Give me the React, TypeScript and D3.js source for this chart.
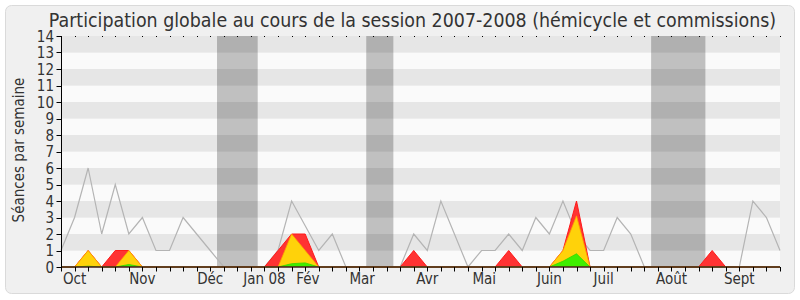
import React from "react";
import * as d3 from "d3";

const TITLE = "Participation globale au cours de la session 2007-2008 (hémicycle et commissions)";
const Y_TITLE = "Séances par semaine";

// weekly values, weeks 0..53
const medianLine = [1, 3, 6, 2, 5, 2, 3, 1, 1, 3, 2, 1, 0, 0, 0, 0, 1, 4, 2.5, 1, 2, 0, 0, 0, 0, 0, 2, 1, 4, 2, 0, 1, 1, 2, 1, 3, 2, 4, 2, 1, 1, 3, 2, 0, 0, 0, 0, 0, 0, 0, 0, 4, 3, 1];
const presences = [0, 0, 1, 0, 1, 1, 0, 0, 0, 0, 0, 0, 0, 0, 0, 0, 1, 2, 2, 0, 0, 0, 0, 0, 0, 0, 1, 0, 0, 0, 0, 0, 0, 1, 0, 0, 0, 1, 4, 0, 0, 0, 0, 0, 0, 0, 0, 0, 1, 0, 0, 0, 0, 0];
const participations = [0, 0, 1, 0, 0, 1, 0, 0, 0, 0, 0, 0, 0, 0, 0, 0, 0, 2, 1, 0, 0, 0, 0, 0, 0, 0, 0, 0, 0, 0, 0, 0, 0, 0, 0, 0, 0, 1, 3.1, 0, 0, 0, 0, 0, 0, 0, 0, 0, 0, 0, 0, 0, 0, 0];
const interventions = [0, 0, 0.05, 0, 0, 0.15, 0, 0, 0, 0, 0, 0, 0, 0, 0, 0, 0, 0.2, 0.25, 0, 0, 0, 0, 0, 0, 0, 0, 0, 0, 0, 0, 0, 0, 0, 0, 0, 0, 0.35, 0.8, 0, 0, 0, 0, 0, 0, 0, 0, 0, 0, 0, 0, 0, 0, 0];

const vacationStart = [12, 23, 44];
const vacationEnd = [14, 24, 47];

const monthLabels = ["Oct", "Nov", "Déc", "Jan 08", "Fév", "Mar", "Avr", "Mai", "Juin", "Juil", "Août", "Sept"];
const monthWeeks = [1, 6, 11, 15, 18.2, 22.2, 27, 31.2, 36, 40, 45, 50];

const yTicks = d3.range(0, 15);

const FONT = "'DejaVu Sans Condensed', 'DejaVu Sans', sans-serif";

export default function App() {
  const W = 800, H = 300;
  const nWeeks = medianLine.length;
  const x = d3.scaleLinear().domain([0, nWeeks - 1]).range([61, 780]);
  const y = d3.scaleLinear().domain([0, 14]).range([267, 36]);
  const weeks = d3.range(nWeeks);

  const area = (vals: number[]) =>
    d3.area<number>().x((_, i) => x(i)).y0(y(0)).y1((d) => y(d))(vals) || "";
  const line = (vals: number[]) =>
    d3.line<number>().x((_, i) => x(i)).y((d) => y(d))(vals) || "";

  return (
    <svg width={W} height={H} style={{ position: "absolute", left: 0, top: 0 }} fontFamily={FONT}>
      <rect x={0} y={0} width={W} height={H} fill="#ffffff" />
      <rect x={5.5} y={5.5} width={789} height={288} rx={6} fill="#f0f0f0" stroke="#dadada" />
      <text x={412.5} y={27} textAnchor="middle" fontSize={19.4} fill="#333">{TITLE}</text>

      {/* stripes */}
      {d3.range(0, 14).map((k) => (
        <rect key={k} x={x(0)} y={y(k + 1)} width={x(nWeeks - 1) - x(0)} height={y(k) - y(k + 1)}
          fill={k % 2 === 1 ? "#e6e6e6" : "#fafafa"} />
      ))}
      {/* vacations */}
      {vacationStart.map((s, i) => (
        <rect key={i} x={x(s - 0.5)} y={y(14)} width={x(vacationEnd[i] + 0.5) - x(s - 0.5)} height={y(0) - y(14)}
          fill="#000" fillOpacity={0.23} />
      ))}

      {/* median line */}
      <path d={line(medianLine)} fill="none" stroke="#b4b4b4" strokeWidth={1.2} />

      {/* areas */}
      <path d={area(presences)} fill="#ff3333" />
      <path d={line(presences)} fill="none" stroke="#ff1a1a" strokeWidth={1} />
      <path d={area(participations)} fill="#ffd20a" />
      <path d={line(participations)} fill="none" stroke="#ffa000" strokeOpacity={0.8} strokeWidth={1} />
      <path d={area(interventions)} fill="#40ee00" />
      <path d={line(interventions)} fill="none" stroke="#30d800" strokeWidth={0.8} />

      {/* axes */}
      <line x1={x(0)} x2={x(nWeeks - 1)} y1={y(0)} y2={y(0)} stroke="#4a1a1a" strokeWidth={1.6} />
      <line x1={x(0) + 0.5} x2={x(0) + 0.5} y1={y(14)} y2={y(0)} stroke="#000" />
      {weeks.map((i) => (
        <line key={"b" + i} x1={Math.round(x(i)) + 0.5} x2={Math.round(x(i)) + 0.5} y1={y(0)} y2={y(0) + 4.5} stroke="#000" />
      ))}
      {weeks.map((i) => (
        <rect key={"t" + i} x={Math.round(x(i))} y={36} width={1} height={1} fill="#000" />
      ))}
      {yTicks.map((t) => (
        <g key={"y" + t}>
          <line x1={56.5} x2={61} y1={Math.round(y(t)) + 0.5} y2={Math.round(y(t)) + 0.5} stroke="#000" />
          <text x={54} y={y(t) + 5.5} textAnchor="end" fontSize={15} fill="#333">{t}</text>
        </g>
      ))}
      {monthLabels.map((m, i) => (
        <text key={m} x={x(monthWeeks[i])} y={283.5} textAnchor="middle" fontSize={15} fill="#333">{m}</text>
      ))}
      <text transform={`translate(24,150) rotate(-90)`} textAnchor="middle" fontSize={15} fill="#333">{Y_TITLE}</text>
    </svg>
  );
}
